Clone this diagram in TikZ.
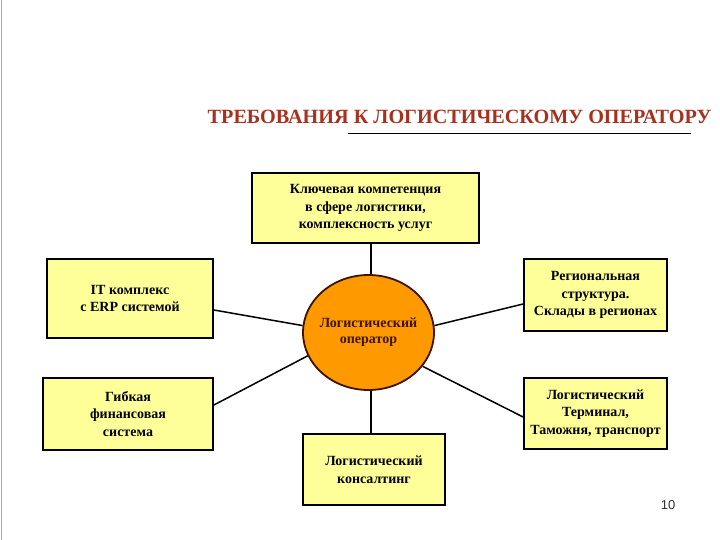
\documentclass[tikz,border=0pt]{standalone}
\usepackage{fontspec}
\usetikzlibrary{shapes.geometric}
\setmainfont{Liberation Serif}
\newfontfamily\arialfont{Liberation Sans}
\definecolor{boxyellow}{RGB}{255,255,153}
\definecolor{oporange}{RGB}{255,153,0}
\definecolor{titlered}{RGB}{168,48,28}
\definecolor{optext}{RGB}{60,20,0}
\begin{document}
\begin{tikzpicture}[x=1pt,y=-1pt,
  reqbox/.style={draw=black, line width=1.8pt, fill=boxyellow, inner sep=0pt,
    align=center, font=\fontsize{14}{17.5}\selectfont\bfseries},
  link/.style={draw=black, line width=1.5pt}]
\useasboundingbox (0,0) rectangle (720,540);
\fill[white] (0,0) rectangle (720,540);
\draw[gray!70, line width=1pt] (1.5,0) -- (1.5,540);

\node[font=\fontsize{20.2}{22}\selectfont\bfseries, text=titlered, anchor=base] (title) at (459.5,124) {ТРЕБОВАНИЯ К ЛОГИСТИЧЕСКОМУ ОПЕРАТОРУ};
\coordinate (ulA) at (348,133);
\coordinate (ulB) at (691,133);
\draw[line width=0.8pt] (ulA) -- (ulB);

\node[reqbox, minimum width=227pt, minimum height=70pt] (top) at (365.5,208) {Ключевая компетенция\\в сфере логистики,\\комплексность услуг};
\node[reqbox, minimum width=166pt, minimum height=79pt] (l1) at (130,298.5) {IT комплекс\\с ERP системой};
\node[reqbox, minimum width=170pt, minimum height=72pt] (l2) at (128,414) {Гибкая\\финансовая\\система};
\node[reqbox, minimum width=143pt, minimum height=72pt] (r1) at (595.5,295) {Региональная\\структура.\\Склады в регионах};
\node[reqbox, minimum width=143pt, minimum height=71pt] (r2) at (595.5,413.5) {Логистический\\Терминал,\\Таможня, транспорт};
\node[reqbox, minimum width=142pt, minimum height=71pt] (bot) at (374,469.5) {Логистический\\консалтинг};

\node[ellipse, draw=optext, line width=1.8pt, fill=oporange, inner sep=0pt,
  minimum width=131pt, minimum height=115pt] (op) at (368.5,332.5) {};
\node[align=center, text=optext, inner sep=0pt,
  font=\fontsize{14}{16.5}\selectfont\bfseries] (opl) at (368.5,332) {Логистический\\оператор};

\draw[link] ([xshift=2.5pt]op.north) -- ([xshift=2.5pt]op.north |- top.south);
\draw[link] ([xshift=2.5pt]op.south) -- ([xshift=2.5pt]op.south |- bot.north);
\draw[link] ([yshift=-11.5pt]l1.east) -- (op.174);
\draw[link] ([yshift=9pt]l2.east) -- (op.201);
\draw[link] (op.6) -- ([yshift=-9pt]r1.west);
\draw[link] (op.-32) -- ([yshift=-3.5pt]r2.west);

\node[font=\arialfont\fontsize{13}{15}\selectfont, text=black!80, anchor=base] (pg) at (668,509) {10};
\end{tikzpicture}
\end{document}
